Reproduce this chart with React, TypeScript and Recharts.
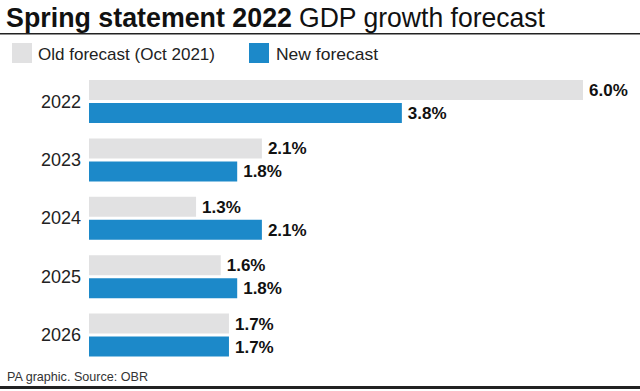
import { Bar, BarChart, LabelList, XAxis, YAxis } from "recharts"

const years = ["2022", "2023", "2024", "2025", "2026"]
const oldForecast = [6.0, 2.1, 1.3, 1.6, 1.7]
const newForecast = [3.8, 1.8, 2.1, 1.8, 1.7]

const data = years.map((year, i) => ({
    year,
    old: oldForecast[i],
    neu: newForecast[i],
}))

const GREY = "#e1e1e2"
const BLUE = "#1c89c9"
const FONT = "'Liberation Sans', Arial, sans-serif"

const fmt = (v: any) => `${Number(v).toFixed(1)}%`

const labelStyle = { fill: "#111", fontSize: 17, fontWeight: 700, fontFamily: FONT }

export default function App() {
    return (
        <div
            style={{
                position: "absolute",
                top: 0,
                left: 0,
                width: 640,
                height: 391,
                background: "#fff",
                overflow: "hidden",
            }}
        >
            <svg width={640} height={391} style={{ position: "absolute", left: 0, top: 0 }} fontFamily={FONT}>
                <text x={6} y={27} fontSize={28} fontWeight={700} fill="#111" textLength={286} lengthAdjust="spacingAndGlyphs">
                    Spring statement 2022
                </text>
                <text x={299} y={27} fontSize={28} fill="#111" textLength={246} lengthAdjust="spacingAndGlyphs">
                    GDP growth forecast
                </text>
                <rect x={0} y={33} width={640} height={1.5} fill="#222" />

                <rect x={12} y={43} width={20} height={20} fill={GREY} />
                <text x={38} y={60} fontSize={17} fill="#222" textLength={177} lengthAdjust="spacingAndGlyphs">
                    Old forecast (Oct 2021)
                </text>
                <rect x={249} y={43} width={20} height={20} fill={BLUE} />
                <text x={276} y={60} fontSize={17} fill="#222" textLength={102} lengthAdjust="spacingAndGlyphs">
                    New forecast
                </text>

                <text x={7} y={381} fontSize={13.5} fill="#333" textLength={141} lengthAdjust="spacingAndGlyphs">
                    PA graphic. Source: OBR
                </text>
                <rect x={0} y={386} width={640} height={3} fill="#222" />
            </svg>

            <div style={{ position: "absolute", left: 0, top: 0 }}>
                <BarChart
                    width={640}
                    height={391}
                    data={data}
                    layout="vertical"
                    margin={{ top: 72, right: 57, bottom: 27, left: 0 }}
                    barSize={20}
                    barGap={3}
                >
                    <XAxis type="number" domain={[0, 6]} hide />
                    <YAxis
                        type="category"
                        dataKey="year"
                        width={89}
                        tickLine={false}
                        axisLine={false}
                        tick={{ fill: "#222", fontSize: 18, fontFamily: FONT }}
                    />
                    <Bar dataKey="old" fill={GREY} isAnimationActive={false}>
                        <LabelList dataKey="old" position="right" offset={6} formatter={fmt} style={labelStyle} />
                    </Bar>
                    <Bar dataKey="neu" fill={BLUE} isAnimationActive={false}>
                        <LabelList dataKey="neu" position="right" offset={6} formatter={fmt} style={labelStyle} />
                    </Bar>
                </BarChart>
            </div>
        </div>
    )
}
